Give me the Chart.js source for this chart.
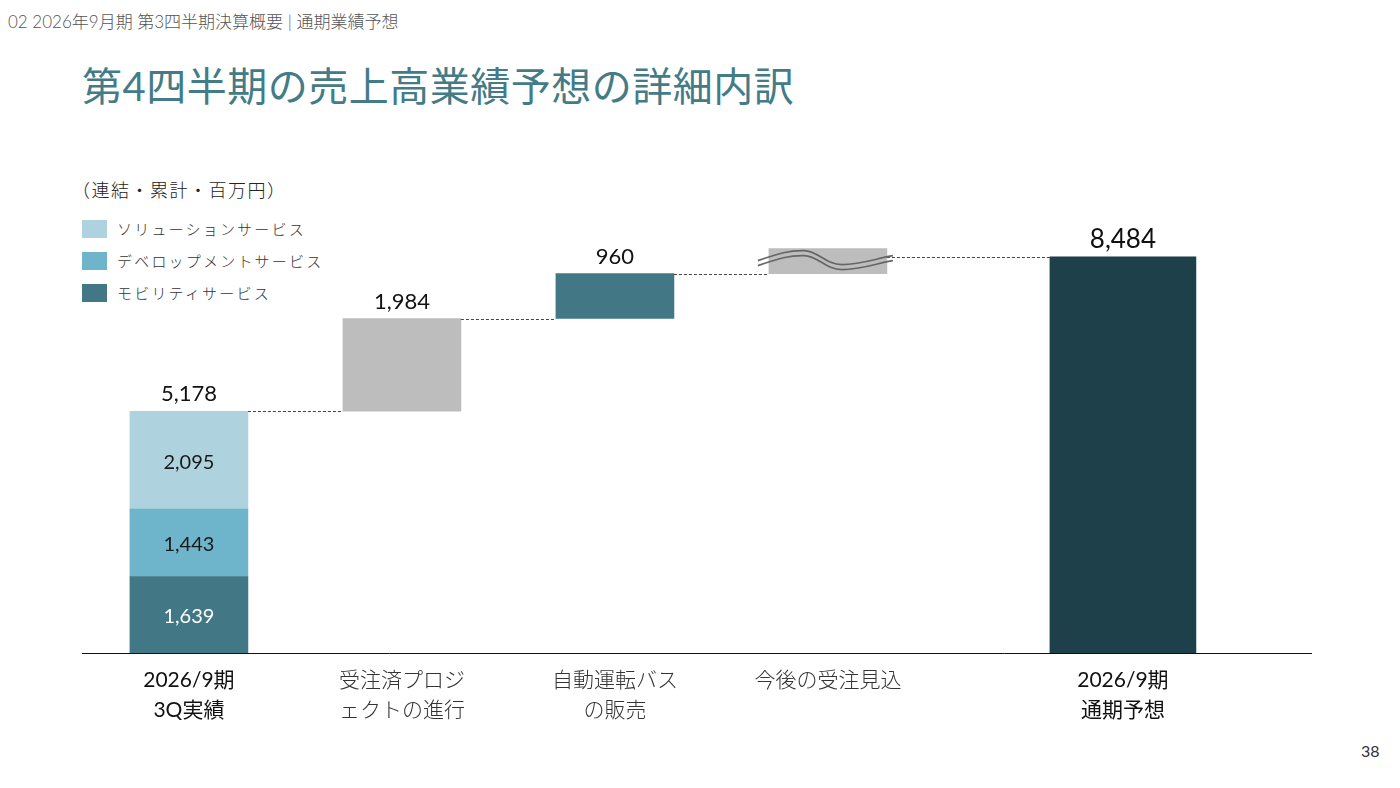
<!DOCTYPE html>
<html lang="ja">
<head>
<meta charset="utf-8">
<script src="https://cdn.jsdelivr.net/npm/chart.js@4"></script>
<style>
  html, body { margin: 0; padding: 0; background: #fff; }
  body { width: 1400px; height: 788px; position: relative; overflow: hidden;
         font-family: "Lato", "Noto Sans CJK JP", sans-serif; }
  #chart { position: absolute; left: 0; top: 0; }
  .hdr { position: absolute; left: 8px; top: 8px; font-size: 17px; color: #555; font-weight: 300; }
  .ttl { position: absolute; left: 82px; top: 55px; font-size: 40px; color: #437b87; font-weight: 400; letter-spacing: 0.5px; }
  .unit { position: absolute; left: 72px; top: 176px; font-size: 18px; color: #222; letter-spacing: 1.5px; font-weight: 300; }
  #legend { position: absolute; left: 82px; top: 220px; }
  .lg { height: 32px; display: flex; align-items: flex-start; font-size: 15px; color: #333; letter-spacing: 2.2px; font-weight: 300; }
  .lg span.sw { width: 25px; height: 18px; margin-right: 10px; display: inline-block; }
  .lg span.tx { line-height: 18px; }
  .page { position: absolute; left: 1361px; top: 741px; font-size: 16px; color: #333; }
</style>
</head>
<body>
<div class="hdr">02 2026年9月期 第3四半期決算概要 | 通期業績予想</div>
<div class="ttl">第4四半期の売上高業績予想の詳細内訳</div>
<div class="unit">（連結・累計・百万円）</div>
<div id="legend"></div>
<div class="page">38</div>
<canvas id="chart" width="1400" height="788"></canvas>

<script>
//---------------- データ ----------------//
var categories = [['2026/9期', '3Q実績'], ['受注済プロジ', 'ェクトの進行'], ['自動運転バス', 'の販売'], ['今後の受注見込'], ['2026/9期', '通期予想']];
var segmentNames = ['ソリューションサービス', 'デベロップメントサービス', 'モビリティサービス'];
var q3Segments = [2095, 1443, 1639];          // 3Q実績の内訳 (上から)
var q3Total = 5178;
var steps = [1984, 960];                      // 受注済プロジェクト, 自動運転バス
var futureBox = 8660;                         // 今後の受注見込 (省略表示の上端)
var fyForecast = 8484;

var segColors = ['#aed3df', '#6eb5cb', '#427785'];
var stepColors = ['#bdbdbd', '#427785'];
var fyColor = '#1d404a';

// 横位置 (カテゴリの並び)
var slots = [0, 1, 2, 3, 4.385];

function fmt(n) { return n.toLocaleString('en-US'); }

//---------------- 凡例 ----------------//
var lg = document.getElementById('legend');
for (var i = 0; i < segmentNames.length; i++) {
  lg.innerHTML += '<div class="lg"><span class="sw" style="background:' + segColors[i] + '"></span><span class="tx">' + segmentNames[i] + '</span></div>';
}

//---------------- データセット ----------------//
var datasets = [];
// 3Q 積み上げ (下から モビリティ → デベロップメント → ソリューション)
var base = 0;
for (var i = q3Segments.length - 1; i >= 0; i--) {
  datasets.push({
    label: segmentNames[i],
    data: [{ x: slots[0], y: [base, base + q3Segments[i]] }],
    backgroundColor: segColors[i],
    barThickness: 118,
    inner: fmt(q3Segments[i]),
    innerColor: i == 2 ? '#ffffff' : '#1a1a1a'
  });
  base += q3Segments[i];
}
var levels = [q3Total];
var cum = q3Total;
for (var i = 0; i < steps.length; i++) {
  datasets.push({
    label: 'step' + i,
    data: [{ x: slots[i + 1], y: [cum, cum + steps[i]] }],
    backgroundColor: stepColors[i],
    barThickness: 118,
    top: fmt(steps[i])
  });
  cum += steps[i];
  levels.push(cum);
}
datasets.push({
  label: 'future',
  data: [{ x: slots[3], y: [cum, futureBox] }],
  backgroundColor: '#bdbdbd',
  barThickness: 118,
  wave: true
});
levels.push(fyForecast);
datasets.push({
  label: 'fy',
  data: [{ x: slots[4], y: [0, fyForecast] }],
  backgroundColor: fyColor,
  barThickness: 146,
  top: fmt(fyForecast),
  topSize: 26
});

var numFont = 'Lato, "Noto Sans CJK JP", sans-serif';

//---------------- プラグイン ----------------//
var waterfallDeco = {
  id: 'waterfallDeco',
  afterDatasetsDraw: function (chart) {
    var ctx = chart.ctx;
    var ys = chart.scales.y;
    // 各バーの矩形
    var rects = [];
    chart.data.datasets.forEach(function (ds, di) {
      var el = chart.getDatasetMeta(di).data[0];
      var p = el.getProps(['x', 'y', 'base', 'width'], true);
      rects.push({ ds: ds, l: p.x - p.width / 2, r: p.x + p.width / 2, cx: p.x, top: Math.min(p.y, p.base), bot: Math.max(p.y, p.base) });
    });
    var cols = [rects[2], rects[3], rects[4], rects[5], rects[6]];

    // 点線のつなぎ
    ctx.save();
    ctx.strokeStyle = '#444';
    ctx.lineWidth = 1;
    ctx.setLineDash([3, 2]);
    for (var i = 0; i < levels.length; i++) {
      var y = Math.round(ys.getPixelForValue(levels[i])) + 0.5;
      ctx.beginPath();
      ctx.moveTo(cols[i].r, y);
      ctx.lineTo(cols[i + 1].l, y);
      ctx.stroke();
    }
    ctx.restore();

    // 波線 (省略記号)
    rects.forEach(function (rc) {
      if (!rc.ds.wave) return;
      var l = rc.l, r = rc.r, t = rc.top;
      var w = r - l, h = rc.bot - t;
      ctx.save();
      ctx.strokeStyle = '#666';
      ctx.lineWidth = 1.7;
      [0, 5].forEach(function (off) {
        ctx.beginPath();
        ctx.moveTo(l - 11, t + h * 0.48 + off);
        ctx.bezierCurveTo(l + w * 0.08, t + h * 0.2 + off, l + w * 0.18, t + h * 0.06 + off, l + w * 0.3, t + h * 0.08 + off);
        ctx.bezierCurveTo(l + w * 0.42, t + h * 0.1 + off, l + w * 0.48, t + h * 0.64 + off, l + w * 0.62, t + h * 0.64 + off);
        ctx.bezierCurveTo(l + w * 0.78, t + h * 0.64 + off, l + w * 0.92, t + h * 0.38 + off, r + 6, t + h * 0.28 + off);
        ctx.stroke();
      });
      ctx.restore();
    });

    // 数値ラベル
    ctx.save();
    ctx.textAlign = 'center';
    ctx.textBaseline = 'middle';
    rects.forEach(function (rc) {
      if (rc.ds.inner) {
        ctx.fillStyle = rc.ds.innerColor;
        ctx.font = '20px ' + numFont;
        ctx.fillText(rc.ds.inner, rc.cx, (rc.top + rc.bot) / 2 + 2);
      }
      if (rc.ds.top) {
        var s = rc.ds.topSize || 22;
        ctx.fillStyle = '#111';
        ctx.font = s + 'px ' + numFont;
        ctx.fillText(rc.ds.top, rc.cx, rc.top - 17);
      }
    });
    // 3Q 合計
    ctx.fillStyle = '#111';
    ctx.font = '22px ' + numFont;
    ctx.fillText(fmt(q3Total), rects[0].cx, ys.getPixelForValue(q3Total) - 17);
    ctx.restore();
  }
};

//---------------- グラフ ----------------//
new Chart('chart', {
  type: 'bar',
  data: { datasets: datasets },
  plugins: [waterfallDeco],
  options: {
    responsive: false,
    animation: false,
    layout: { padding: { left: 82, right: 89, top: 186, bottom: 0 } },
    datasets: { bar: { grouped: false } },
    plugins: { legend: { display: false }, tooltip: { enabled: false } },
    scales: {
      x: {
        type: 'linear',
        offset: false,
        min: -0.502,
        max: 5.268,
        grid: { display: false, drawTicks: false, offset: false },
        border: { display: true, color: '#111', width: 1 },
        afterBuildTicks: function (scale) {
          scale.ticks = slots.map(function (v) { return { value: v }; });
        },
        afterFit: function (scale) { scale.height = 135; },
        ticks: {
          padding: 12,
          autoSkip: false,
          maxRotation: 0,
          callback: function (value, index) { return categories[index]; },
          color: function (c) { return (c.index == 0 || c.index == 4) ? '#111' : '#333'; },
          font: function (c) {
            return { family: numFont, size: 21, lineHeight: 1.45, weight: (c.index == 0 || c.index == 4) ? '400' : '300' };
          }
        }
      },
      y: { display: false, min: 0, max: 10000 }
    }
  }
});
</script>
</body>
</html>
